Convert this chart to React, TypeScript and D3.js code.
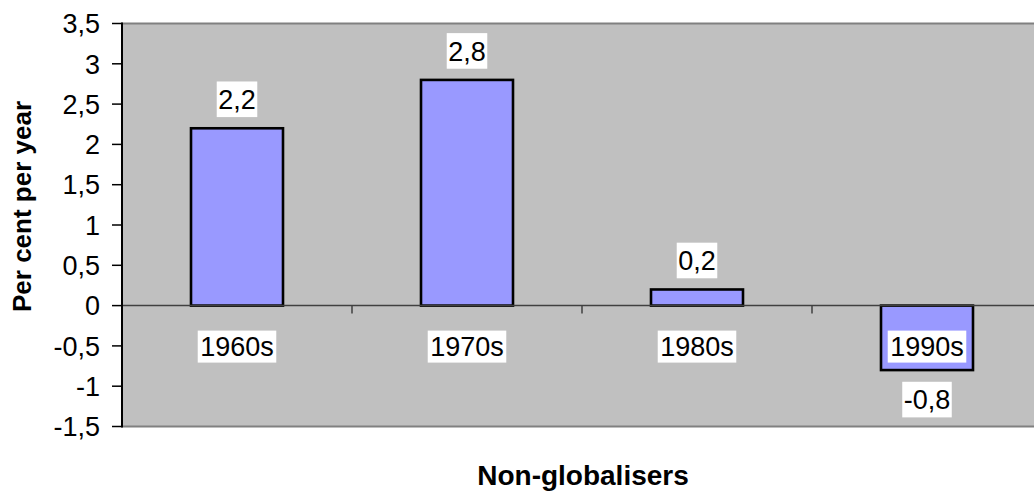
import React from "react";
import * as d3 from "d3";

// Average annual growth, non-globalising countries
const decades = ["1960s", "1970s", "1980s", "1990s"];
const growth = [2.2, 2.8, 0.2, -0.8];
const yTicks = [-1.5, -1, -0.5, 0, 0.5, 1, 1.5, 2, 2.5, 3, 3.5];

const W = 1034;
const H = 494;
const plot = { left: 122, right: 1042, top: 23.5, bottom: 426.5 };
const FONT = "Arial, 'Liberation Sans', sans-serif";
const FS = 27;

const fmt = (v: number) => String(v).replace(".", ",");

// approximate Arial advance widths for label boxes
const charW: Record<string, number> = {
  "0": 0.556, "1": 0.556, "2": 0.556, "3": 0.556, "4": 0.556, "5": 0.556,
  "6": 0.556, "7": 0.556, "8": 0.556, "9": 0.556, ",": 0.278, "-": 0.333, s: 0.5,
};
const textWidth = (t: string) =>
  t.split("").reduce((s, c) => s + (charW[c] ?? 0.556), 0) * FS;

export default function App() {
  const x = d3
    .scaleBand<string>()
    .domain(decades)
    .range([plot.left, plot.right])
    .paddingInner(0.6)
    .paddingOuter(0.3);
  const step = x.step();
  const y = d3.scaleLinear().domain([-1.5, 3.5]).range([plot.bottom, plot.top]);
  const y0 = y(0);

  const boundaries = d3.range(decades.length + 1).map((i) => plot.left + i * step);

  return (
    <svg
      width={W}
      height={H}
      style={{ position: "absolute", left: 0, top: 0, background: "#fff" }}
      fontFamily={FONT}
    >
      {/* plot area */}
      <rect
        x={plot.left}
        y={plot.top}
        width={plot.right - plot.left}
        height={plot.bottom - plot.top}
        fill="#c0c0c0"
      />
      <line x1={plot.left} x2={plot.right} y1={plot.top} y2={plot.top} stroke="#808080" strokeWidth={2} />
      <line x1={plot.left} x2={plot.right} y1={plot.bottom} y2={plot.bottom} stroke="#808080" strokeWidth={2} />

      {/* bars */}
      {decades.map((d, i) => {
        const v = growth[i];
        const top = Math.min(y(v), y0);
        const h = Math.abs(y(v) - y0);
        return (
          <rect
            key={d}
            x={x(d)}
            y={top}
            width={x.bandwidth()}
            height={h}
            fill="#9999ff"
            stroke="#000"
            strokeWidth={2.6}
          />
        );
      })}

      {/* zero line with category ticks */}
      <line x1={plot.left} x2={plot.right} y1={y0} y2={y0} stroke="#404040" strokeWidth={1.5} />
      {boundaries.map((bx, i) => (
        <line key={i} x1={bx} x2={bx} y1={y0} y2={y0 + 8} stroke="#404040" strokeWidth={1.5} />
      ))}

      {/* value axis */}
      <line x1={plot.left} x2={plot.left} y1={plot.top - 1} y2={plot.bottom + 1} stroke="#000" strokeWidth={2} />
      {yTicks.map((t) => (
        <g key={t}>
          <line x1={plot.left - 10} x2={plot.left} y1={y(t)} y2={y(t)} stroke="#000" strokeWidth={1.5} />
          <text x={100} y={y(t)} dy="0.36em" textAnchor="end" fontSize={FS} fill="#000">
            {fmt(t)}
          </text>
        </g>
      ))}

      {/* category labels */}
      {decades.map((d) => {
        const cx = (x(d) as number) + x.bandwidth() / 2;
        const cy = y0 + 41;
        const w = textWidth(d) + 5;
        return (
          <g key={d}>
            <rect x={cx - w / 2} y={cy - 16} width={w} height={32} fill="#fff" />
            <text x={cx} y={cy} dy="0.36em" textAnchor="middle" fontSize={FS} fill="#000">
              {d}
            </text>
          </g>
        );
      })}

      {/* value labels */}
      {decades.map((d, i) => {
        const v = growth[i];
        const cx = (x(d) as number) + x.bandwidth() / 2;
        const cy = v >= 0 ? y(v) - 29 : y(v) + 29.5;
        const label = fmt(v);
        const w = textWidth(label) + 3;
        return (
          <g key={d}>
            <rect x={cx - w / 2} y={cy - 17.8} width={w} height={35.6} fill="#fff" />
            <text x={cx} y={cy} dy="0.36em" textAnchor="middle" fontSize={FS} fill="#000">
              {label}
            </text>
          </g>
        );
      })}

      {/* axis titles */}
      <text
        transform={`translate(31,206.5) rotate(-90)`}
        textAnchor="middle"
        fontSize={26}
        fontWeight="bold"
        fill="#000"
      >
        Per cent per year
      </text>
      <text
        x={(plot.left + plot.right) / 2 + 1}
        y={485}
        textAnchor="middle"
        fontSize={28}
        fontWeight="bold"
        fill="#000"
      >
        Non-globalisers
      </text>
    </svg>
  );
}
